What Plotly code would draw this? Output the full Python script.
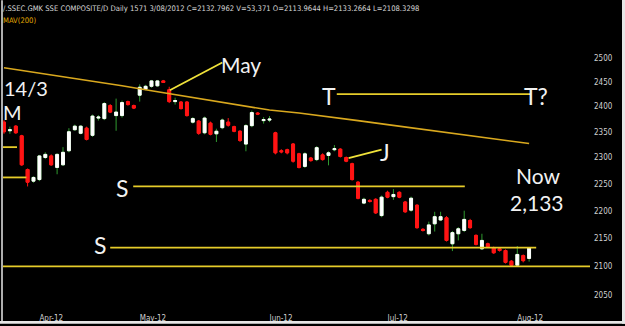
import math
import pandas as pd
import plotly.graph_objects as go

# ---------------- data ----------------
holidays = ["2012-04-02", "2012-04-03", "2012-04-04", "2012-04-30", "2012-05-01", "2012-06-22"]
dates = [d for d in pd.bdate_range("2012-03-23", "2012-08-03") if d.strftime("%Y-%m-%d") not in holidays]

opens = [2369, 2352, 2361, 2342, 2277, 2255, 2258, 2300, 2303, 2281,
         2286, 2313, 2354, 2347, 2357, 2343, 2377, 2376, 2402, 2382,
         2382, 2410, 2402, 2423, 2435, 2441, 2442, 2452, 2434, 2410,
         2409, 2409, 2369, 2371, 2348, 2367, 2346, 2358, 2369, 2360,
         2351, 2326, 2362, 2387, 2372, 2373, 2348, 2313, 2315, 2326,
         2307, 2283, 2299, 2296, 2305, 2304, 2315, 2316, 2300, 2288,
         2253, 2214, 2219, 2221, 2191, 2234, 2226, 2234, 2216, 2201,
         2210, 2166, 2158, 2176, 2183, 2187, 2140, 2158, 2164, 2182,
         2155, 2131, 2140, 2133, 2131, 2128, 2109, 2102, 2119, 2113.96]
highs = [2373, 2360, 2363, 2344, 2279, 2264, 2305, 2310, 2306, 2308,
         2320, 2357, 2364, 2363, 2360, 2384, 2383, 2409, 2405, 2416,
         2412, 2412, 2404, 2445, 2444, 2454, 2454, 2454, 2440, 2418,
         2411, 2411, 2379, 2373, 2380, 2370, 2356, 2376, 2377, 2362,
         2353, 2365, 2392, 2389, 2379, 2381, 2350, 2316, 2317, 2328,
         2309, 2310, 2301, 2322, 2308, 2312, 2324, 2318, 2302, 2290,
         2255, 2224, 2221, 2223, 2228, 2237, 2240, 2236, 2218, 2226,
         2212, 2168, 2180, 2198, 2198, 2190, 2163, 2170, 2200, 2185,
         2157, 2158, 2142, 2135, 2133, 2130, 2111, 2136, 2121, 2133.27]
lows = [2346, 2346, 2346, 2284, 2245, 2252, 2255, 2297, 2284, 2268,
        2284, 2310, 2352, 2345, 2333, 2340, 2372, 2373, 2387, 2352,
        2378, 2402, 2395, 2410, 2433, 2438, 2440, 2448, 2407, 2404,
        2394, 2380, 2366, 2344, 2345, 2343, 2330, 2355, 2360, 2349,
        2330, 2312, 2359, 2383, 2366, 2369, 2306, 2308, 2306, 2290,
        2279, 2280, 2292, 2293, 2294, 2285, 2312, 2300, 2291, 2256,
        2221, 2212, 2215, 2194, 2188, 2223, 2220, 2223, 2196, 2198,
        2167, 2162, 2155, 2162, 2181, 2144, 2127, 2146, 2161, 2167,
        2137, 2129, 2133, 2122, 2126, 2105, 2100, 2100, 2107, 2108.33]
closes = [2350, 2354, 2348, 2286, 2253, 2262, 2303, 2306, 2286, 2306,
          2310, 2350, 2361, 2361, 2335, 2381, 2379, 2406, 2389, 2389,
          2408, 2404, 2397, 2439, 2441, 2452, 2452, 2449, 2410, 2412,
          2396, 2382, 2376, 2347, 2377, 2345, 2351, 2373, 2363, 2351,
          2333, 2362, 2388, 2385, 2374, 2375, 2309, 2311, 2309, 2293,
          2281, 2307, 2294, 2319, 2296, 2309, 2317, 2302, 2293, 2258,
          2223, 2221, 2217, 2196, 2225, 2225, 2230, 2225, 2198, 2223,
          2169, 2164, 2174, 2189, 2189, 2146, 2160, 2167, 2184, 2169,
          2139, 2146, 2135, 2124, 2128, 2107, 2102, 2121, 2110, 2132.80]

# 200-day moving average, read at every 5th session
ma_idx = [0, 5, 10, 15, 20, 25, 30, 35, 40, 45, 50, 55, 60, 65, 70, 75, 80, 85, 89]
ma_vals = [2479, 2470, 2461, 2452, 2442, 2432, 2422, 2413, 2403, 2393,
           2387, 2380, 2372, 2364, 2356, 2349, 2341, 2333, 2327]

y_ticks = [2050, 2100, 2150, 2200, 2250, 2300, 2350, 2400, 2450, 2500]
month_labels = ["Apr-12", "May-12", "Jun-12", "Jul-12", "Aug-12"]

# support / trend levels: (price, start session, end session)
level_T = (2425, 56.4, 89.3)
level_S1 = (2245, 21.9, 78.1)
level_S2 = (2133, 18.0, 90.2)
level_floor = 2100
left_marks = [(2320, 2.2), (2262, 3.8)]
may_line = ([28.1, 37.0], [2433, 2490])
j_line = ([58.4, 64.0], [2299, 2315])

labels = [  # text, session, price, size
    ("May", 40.2, 2486, 21),
    ("T", 55.1, 2421, 23),
    ("T?", 90.2, 2421, 23),
    ("J", 64.6, 2311, 23),
    ("S", 20.0, 2242, 23),
    ("S", 16.3, 2137, 23),
    ("Now", 90.5, 2266, 21),
    ("2,133", 90.3, 2216, 21),
    ("14/3", 3.7, 2437, 20),
    ("M", 1.4, 2389, 20),
]

header = "/.SSEC.GMK SSE COMPOSITE/D Daily 1571 3/08/2012 C=2132.7962 V=53,371 O=2113.9644 H=2133.2664 L=2108.3298"

# ---------------- layout geometry ----------------
W, H = 625, 326
ML, MR, MT, MB = 3, 35, 30, 11
PW, PH = W - ML - MR, H - MT - MB
XR = [-0.17, 99.32]
YR = [math.log10(2021.4), math.log10(2558.6)]

def pxx(px):
    return (px - ML) / PW

def pxy(py):
    return (H - MB - py) / PH

idx = list(range(len(dates)))
body_hi = [max(o, c) for o, c in zip(opens, closes)]
body_lo = [min(o, c) for o, c in zip(opens, closes)]

GREEN = "#2f9a2f"
RED = "#ff1414"
GOLD = "#d9a81e"
YEL = "#e6cc2a"
BRIGHT = "#f0e23a"
TXT = "#f2f2f2"
SMALL_FONT = "'Liberation Sans Narrow', 'DejaVu Sans Condensed', sans-serif"

fig = go.Figure()

# wicks
fig.add_trace(go.Candlestick(
    x=idx, open=opens, high=highs, low=lows, close=closes,
    increasing=dict(line=dict(color=GREEN, width=1), fillcolor=GREEN),
    decreasing=dict(line=dict(color=RED, width=1), fillcolor=RED),
    hoverinfo="skip", showlegend=False))
# bodies
fig.add_trace(go.Candlestick(
    x=idx, open=opens, high=body_hi, low=body_lo, close=closes,
    increasing=dict(line=dict(color="#ffffff", width=1), fillcolor="#ffffff"),
    decreasing=dict(line=dict(color=RED, width=1), fillcolor=RED),
    hoverinfo="skip", showlegend=False))

# moving average
fig.add_trace(go.Scatter(x=ma_idx, y=ma_vals, mode="lines",
                         line=dict(color=GOLD, width=1.6), hoverinfo="skip", showlegend=False))

# levels
for lvl in (level_T, level_S1, level_S2):
    fig.add_trace(go.Scatter(x=[lvl[1], lvl[2]], y=[lvl[0], lvl[0]], mode="lines",
                             line=dict(color=YEL, width=1.8), hoverinfo="skip", showlegend=False))
fig.add_trace(go.Scatter(x=XR, y=[level_floor, level_floor], mode="lines",
                         line=dict(color=YEL, width=1.8), hoverinfo="skip", showlegend=False))
for price, end in left_marks:
    fig.add_trace(go.Scatter(x=[XR[0], end], y=[price, price], mode="lines",
                             line=dict(color=YEL, width=1.8), hoverinfo="skip", showlegend=False))
for xs, ys in (may_line, j_line):
    fig.add_trace(go.Scatter(x=xs, y=ys, mode="lines",
                             line=dict(color=BRIGHT, width=1.8), hoverinfo="skip", showlegend=False))

annotations = []
for text, sx, price, size in labels:
    annotations.append(dict(x=sx, y=math.log10(price), xref="x", yref="y", text=text,
                            showarrow=False, xanchor="center", yanchor="middle",
                            font=dict(family="Lato, 'Open Sans', sans-serif", size=size, color=TXT)))
annotations.append(dict(x=pxx(1), y=pxy(8), xref="paper", yref="paper", text=header,
                        showarrow=False, xanchor="left", yanchor="middle",
                        font=dict(family=SMALL_FONT, size=7.6, color="#d8d8d8")))
annotations.append(dict(x=pxx(1), y=pxy(20), xref="paper", yref="paper", text="MAV(200)",
                        showarrow=False, xanchor="left", yanchor="middle",
                        font=dict(family=SMALL_FONT, size=7.6, color="#e0a800")))

# month ticks at first session of each month
first_of_month = []
seen = set()
for i, d in enumerate(dates):
    key = (d.year, d.month)
    if key not in seen:
        seen.add(key)
        if d.month >= 4:
            first_of_month.append(i)

shapes = [
    dict(type="line", xref="paper", yref="paper", x0=pxx(2), x1=pxx(2), y0=pxy(0), y1=pxy(324),
         line=dict(color="#e8e8e8", width=1.5)),
    dict(type="rect", xref="paper", yref="paper", x0=pxx(622), x1=pxx(626), y0=pxy(-1), y1=pxy(327),
         line=dict(width=0), fillcolor="#e6e6e6"),
    dict(type="rect", xref="paper", yref="paper", x0=pxx(-1), x1=pxx(626), y0=pxy(324), y1=pxy(327),
         line=dict(width=0), fillcolor="#e6e6e6"),
]

tick_font = dict(family=SMALL_FONT, size=8, color="#d0d0d0")

fig.update_layout(
    width=W, height=H,
    margin=dict(l=ML, r=MR, t=MT, b=MB, pad=0),
    paper_bgcolor="#000000", plot_bgcolor="#000000",
    showlegend=False,
    annotations=annotations,
    shapes=shapes,
    xaxis=dict(range=XR, showgrid=False, zeroline=False, showline=False,
               rangeslider=dict(visible=False),
               tickmode="array", tickvals=first_of_month, ticktext=month_labels,
               ticks="", ticklabelposition="outside right",
               tickfont=tick_font, fixedrange=True),
    yaxis=dict(type="log", range=YR, side="right", showgrid=False, zeroline=False, showline=False,
               tickmode="array", tickvals=y_ticks, ticktext=[str(v) for v in y_ticks],
               ticks="", ticklabelstandoff=3, tickfont=tick_font, fixedrange=True),
)

fig.write_html("out.html")
